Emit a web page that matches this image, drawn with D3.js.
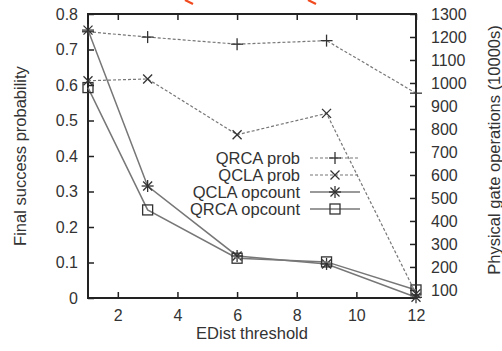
<!DOCTYPE html>
<html>
<head>
<meta charset="utf-8">
<script src="https://cdn.jsdelivr.net/npm/d3@7"></script>
<style>
  body { margin: 0; background: #fff; }
  text { font-family: "Liberation Sans", Arial, sans-serif; fill: #333; }
</style>
</head>
<body>
<div id="chart"></div>
<script>
// EDist threshold values
const thresholds = [1, 3, 6, 9, 12];
// left axis: final success probability
const qrcaProb = [0.75, 0.735, 0.715, 0.725, 0.577];
const qclaProb = [0.612, 0.617, 0.46, 0.52, 0.012];
// right axis: physical gate operations (10000s)
const qclaOpcount = [1230, 552, 248, 213, 68];
const qrcaOpcount = [980, 448, 238, 222, 100];

const xTicks = [2, 4, 6, 8, 10, 12];
const yTicks = [0, 0.1, 0.2, 0.3, 0.4, 0.5, 0.6, 0.7, 0.8];
const y2Ticks = [100, 200, 300, 400, 500, 600, 700, 800, 900, 1000, 1100, 1200, 1300];

const legendNames = ["QRCA prob", "QCLA prob", "QCLA opcount", "QRCA opcount"];

const width = 502, height = 351;
const margin = { top: 14, left: 88, bottom: 53, right: 86 };
const iwidth = width - margin.left - margin.right;
const iheight = height - margin.top - margin.bottom;

const svg = d3.select("#chart").append("svg")
  .attr("width", width)
  .attr("height", height);

const g = svg.append("g")
  .attr("transform", `translate(${margin.left},${margin.top})`);

const x = d3.scaleLinear().domain([1, 12]).range([0, iwidth]);
const y = d3.scaleLinear().domain([0, 0.8]).range([iheight, 0]);
const y2 = d3.scaleLinear().domain([65, 1300]).range([iheight, 0]);

const axisColor = "#222";

// x axis (ticks pointing inward) + mirrored ticks on top
const xAxis = g.append("g")
  .attr("transform", `translate(0,${iheight})`)
  .call(d3.axisBottom(x).tickValues(xTicks).tickSize(-6).tickPadding(12).tickFormat(d3.format("d")));
const xTop = g.append("g")
  .call(d3.axisTop(x).tickValues(xTicks).tickSize(-6).tickFormat(""));

const yAxis = g.append("g")
  .call(d3.axisLeft(y).tickValues(yTicks).tickSize(-6).tickPadding(10)
    .tickFormat(d => d === 0 ? "0" : d3.format(".1f")(d)));

const y2Axis = g.append("g")
  .attr("transform", `translate(${iwidth},0)`)
  .call(d3.axisRight(y2).tickValues(y2Ticks).tickSize(-6).tickPadding(15).tickFormat(d3.format("d")));

[xAxis, xTop, yAxis, y2Axis].forEach(a => {
  a.select(".domain").remove();
  a.selectAll("line").attr("stroke", axisColor).attr("stroke-width", 1.5);
  a.selectAll("text").attr("font-size", 16).attr("fill", "#333")
    .style("font-family", "'Liberation Sans', Arial, sans-serif");
});

g.append("rect")
  .attr("width", iwidth)
  .attr("height", iheight)
  .attr("fill", "none")
  .attr("stroke", axisColor)
  .attr("stroke-width", 2);

// axis titles
svg.append("text")
  .attr("x", margin.left + iwidth / 2)
  .attr("y", 339)
  .attr("text-anchor", "middle")
  .attr("font-size", 16.5)
  .text("EDist threshold");

svg.append("text")
  .attr("transform", `translate(26,156) rotate(-90)`)
  .attr("text-anchor", "middle")
  .attr("font-size", 16.5)
  .text("Final success probability");

svg.append("text")
  .attr("transform", `translate(500,150) rotate(-90)`)
  .attr("text-anchor", "middle")
  .attr("font-size", 16.5)
  .text("Physical gate operations (10000s)");

// red fragments of the cropped title above
svg.append("line").attr("x1", 185).attr("y1", 0).attr("x2", 193).attr("y2", 4)
  .attr("stroke", "#f04a1e").attr("stroke-width", 2.2);
svg.append("line").attr("x1", 308).attr("y1", 0).attr("x2", 316).attr("y2", 4)
  .attr("stroke", "#f04a1e").attr("stroke-width", 2.2);

// marker shapes
function drawMarker(sel, type, cx, cy) {
  const m = sel.append("g").attr("transform", `translate(${cx},${cy})`)
    .attr("stroke", "#333").attr("stroke-width", 1.3).attr("fill", "none");
  if (type === "plus" || type === "star") {
    m.append("line").attr("x1", -6).attr("x2", 6).attr("y1", 0).attr("y2", 0);
    m.append("line").attr("x1", 0).attr("x2", 0).attr("y1", -6).attr("y2", 6);
  }
  if (type === "cross" || type === "star") {
    m.append("line").attr("x1", -4.5).attr("x2", 4.5).attr("y1", -4.5).attr("y2", 4.5);
    m.append("line").attr("x1", -4.5).attr("x2", 4.5).attr("y1", 4.5).attr("y2", -4.5);
  }
  if (type === "square") {
    m.append("rect").attr("x", -5).attr("y", -5).attr("width", 10).attr("height", 10);
  }
}

const series = [
  { name: legendNames[0], values: qrcaProb, scale: y, dash: "3,2", marker: "plus" },
  { name: legendNames[1], values: qclaProb, scale: y, dash: "3,2", marker: "cross" },
  { name: legendNames[2], values: qclaOpcount, scale: y2, dash: null, marker: "star" },
  { name: legendNames[3], values: qrcaOpcount, scale: y2, dash: null, marker: "square" }
];

series.forEach(s => {
  const line = d3.line()
    .x((d, i) => x(thresholds[i]))
    .y(d => s.scale(d));
  g.append("path")
    .datum(s.values)
    .attr("fill", "none")
    .attr("stroke", "#777")
    .attr("stroke-width", s.dash ? 1.2 : 1.5)
    .attr("stroke-dasharray", s.dash)
    .attr("d", line);
  s.values.forEach((v, i) => drawMarker(g, s.marker, x(thresholds[i]), s.scale(v)));
});

// legend
const legend = svg.append("g");
series.forEach((s, i) => {
  const ly = 158 + i * 17;
  legend.append("text")
    .attr("x", 300)
    .attr("y", ly)
    .attr("dy", "0.35em")
    .attr("text-anchor", "end")
    .attr("font-size", 16.5)
    .text(s.name);
  legend.append("line")
    .attr("x1", 310).attr("x2", 360)
    .attr("y1", ly).attr("y2", ly)
    .attr("stroke", "#777")
    .attr("stroke-width", s.dash ? 1.2 : 1.5)
    .attr("stroke-dasharray", s.dash);
  drawMarker(legend, s.marker, 335, ly);
});
</script>
</body>
</html>
